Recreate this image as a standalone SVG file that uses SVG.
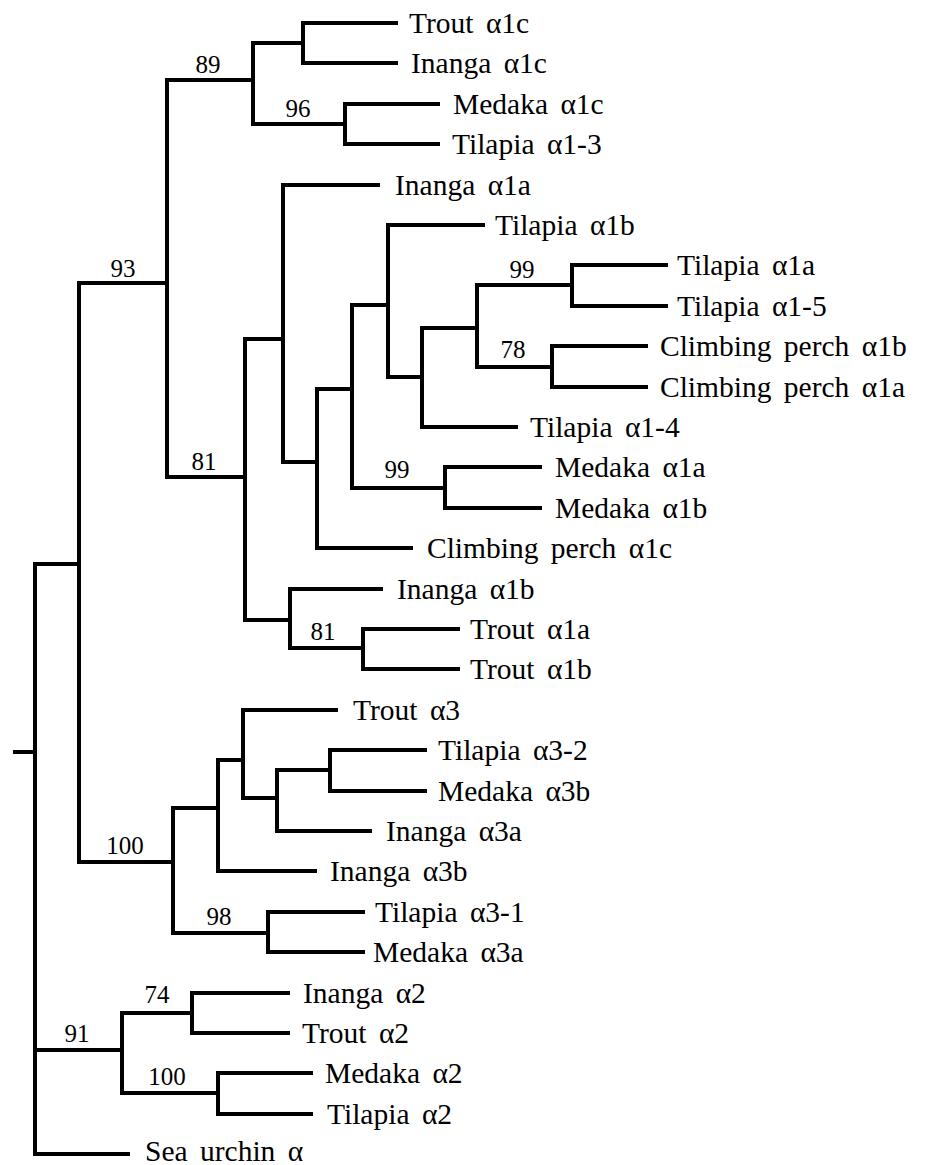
<svg xmlns="http://www.w3.org/2000/svg" width="928" height="1165" viewBox="0 0 928 1165">
<style>
.br{fill:none;stroke:#000;stroke-width:4;stroke-linejoin:miter;stroke-linecap:butt}
text{font-family:'Times New Roman','Liberation Serif',Times,'DejaVu Serif',serif}
.lb{font-size:29.5px;word-spacing:5px;fill:#000}
.bs{font-size:25px;fill:#000;text-anchor:middle}
</style>
<rect width="928" height="1165" fill="#fff"/>
<g id="connectors" class="br">
<path d="M398 23H303V63H398"/>
<path d="M440 104H345V144H440"/>
<path d="M303 43H253V124H345"/>
<path d="M253 80H167V477H245"/>
<path d="M668 265H572V306H668"/>
<path d="M648 346H552V387H648"/>
<path d="M572 285H477V367H552"/>
<path d="M477 328H422V427H518"/>
<path d="M485 225H388V377H422"/>
<path d="M542 467H445V508H542"/>
<path d="M388 305H352V488H445"/>
<path d="M352 389H317V548H413"/>
<path d="M380 185H283V462H317"/>
<path d="M460 629H363V669H460"/>
<path d="M383 589H290V648H363"/>
<path d="M283 339H245V620H290"/>
<path d="M167 283H79V862H173"/>
<path d="M427 750H330V791H427"/>
<path d="M330 770H277V831H372"/>
<path d="M338 710H243V798H277"/>
<path d="M243 760H218V871H317"/>
<path d="M365 912H268V952H365"/>
<path d="M218 808H173V933H268"/>
<path d="M290 993H192V1033H290"/>
<path d="M313 1073H218V1114H313"/>
<path d="M192 1013H122V1093H218"/>
<path d="M79 564H35V1154H130"/>
<path d="M35 1050H122"/>
<path d="M13 752H35"/>
</g>
<g id="support" class="bs">
<text x="208" y="73">89</text>
<text x="298" y="117">96</text>
<text x="123" y="277">93</text>
<text x="204" y="470">81</text>
<text x="522" y="278">99</text>
<text x="513" y="358">78</text>
<text x="397" y="478">99</text>
<text x="323" y="640">81</text>
<text x="125" y="854">100</text>
<text x="219" y="925">98</text>
<text x="157" y="1003">74</text>
<text x="77" y="1042">91</text>
<text x="167" y="1085">100</text>
</g>
<g class="lb">
<g id="trout-a1c"><text x="409" y="32.5">Trout α1c</text></g>
<g id="inanga-a1c"><text x="411" y="72.5">Inanga α1c</text></g>
<g id="medaka-a1c"><text x="453" y="113.5">Medaka α1c</text></g>
<g id="tilapia-a1-3"><text x="452" y="153.5">Tilapia α1-3</text></g>
<g id="inanga-a1a"><text x="395" y="194.5">Inanga α1a</text></g>
<g id="tilapia-a1b"><text x="495" y="234.5">Tilapia α1b</text></g>
<g id="tilapia-a1a"><text x="677" y="274.5">Tilapia α1a</text></g>
<g id="tilapia-a1-5"><text x="677" y="315.5">Tilapia α1-5</text></g>
<g id="cp-a1b"><text x="660" y="355.5">Climbing perch α1b</text></g>
<g id="cp-a1a"><text x="660" y="396.5">Climbing perch α1a</text></g>
<g id="tilapia-a1-4"><text x="530" y="436.5">Tilapia α1-4</text></g>
<g id="medaka-a1a"><text x="555" y="476.5">Medaka α1a</text></g>
<g id="medaka-a1b"><text x="555" y="517.5">Medaka α1b</text></g>
<g id="cp-a1c"><text x="427" y="557.5">Climbing perch α1c</text></g>
<g id="inanga-a1b"><text x="397" y="598.5">Inanga α1b</text></g>
<g id="trout-a1a"><text x="470" y="638.5">Trout α1a</text></g>
<g id="trout-a1b"><text x="470" y="678.5">Trout α1b</text></g>
<g id="trout-a3"><text x="353" y="719.5">Trout α3</text></g>
<g id="tilapia-a3-2"><text x="438" y="759.5">Tilapia α3-2</text></g>
<g id="medaka-a3b"><text x="438" y="800.5">Medaka α3b</text></g>
<g id="inanga-a3a"><text x="386" y="840.5">Inanga α3a</text></g>
<g id="inanga-a3b"><text x="330" y="880.5">Inanga α3b</text></g>
<g id="tilapia-a3-1"><text x="375" y="921.5">Tilapia α3-1</text></g>
<g id="medaka-a3a"><text x="373" y="961.5">Medaka α3a</text></g>
<g id="inanga-a2"><text x="303" y="1002.5">Inanga α2</text></g>
<g id="trout-a2"><text x="302" y="1042.5">Trout α2</text></g>
<g id="medaka-a2"><text x="325" y="1082.5">Medaka α2</text></g>
<g id="tilapia-a2"><text x="327" y="1123.5">Tilapia α2</text></g>
<g id="sea-urchin-a"><text x="145" y="1161">Sea urchin α</text></g>
</g>
</svg>
